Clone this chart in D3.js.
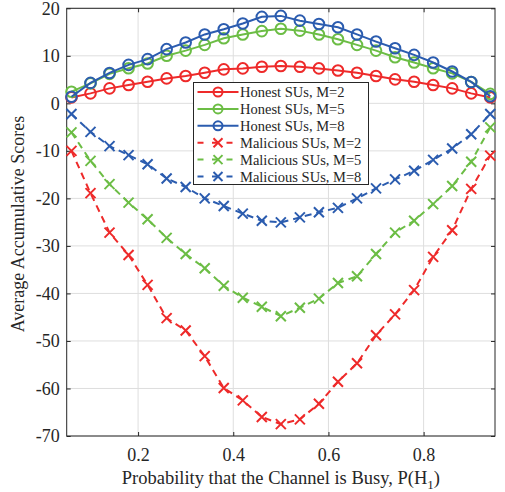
<!DOCTYPE html>
<html>
<head>
<meta charset="utf-8">
<script src="https://cdn.jsdelivr.net/npm/d3@7"></script>
<style>
  body { margin: 0; background: #fff; }
  text { font-family: "Liberation Serif", "Times New Roman", serif; }
</style>
</head>
<body>
<div id="chart"></div>
<script>
// probability values P(H1)
var pH1 = [0.06, 0.10, 0.14, 0.18, 0.22, 0.26, 0.30, 0.34, 0.38, 0.42, 0.46, 0.50,
           0.54, 0.58, 0.62, 0.66, 0.70, 0.74, 0.78, 0.82, 0.86, 0.90, 0.94];

var honestM2 = [1.25, 2.1, 3.15, 3.85, 4.55, 5.25, 5.75, 6.45, 7.15, 7.35, 7.7, 7.85,
                7.7, 7.35, 6.9, 6.45, 5.75, 5.05, 4.55, 3.85, 3.15, 2.1, 1.25];
var honestM5 = [2.45, 4.2, 6.2, 7.4, 8.4, 10.0, 11.1, 12.3, 13.7, 14.5, 15.2, 15.7,
                15.3, 14.5, 13.5, 12.3, 11.1, 9.7, 8.6, 7.4, 6.3, 4.5, 2.0];
var honestM8 = [1.4, 4.3, 6.4, 8.1, 9.3, 11.4, 12.8, 14.5, 15.6, 16.8, 18.2, 18.4,
                17.4, 16.7, 16.0, 14.5, 13.0, 11.6, 10.2, 8.6, 6.7, 4.5, 1.5];

var maliciousM2 = [-10.0, -18.9, -27.2, -31.9, -38.2, -45.2, -47.8, -53.2, -59.9, -62.5, -66.0, -67.5,
                   -66.5, -63.2, -58.6, -54.7, -48.8, -44.4, -39.3, -32.3, -26.7, -18.0, -11.0];
var maliciousM5 = [-6.1, -12.1, -17.0, -20.9, -24.4, -28.3, -31.7, -34.7, -38.4, -40.9, -42.8, -44.8,
                   -43.0, -41.1, -37.8, -36.4, -31.7, -27.2, -24.7, -21.2, -17.4, -12.3, -5.05];
var maliciousM8 = [-2.25, -6.0, -9.0, -10.9, -12.8, -15.8, -17.6, -20.0, -21.6, -23.2, -24.7, -25.05,
                   -24.0, -22.9, -22.0, -20.0, -17.9, -16.0, -14.2, -11.9, -9.5, -6.5, -2.25];

var xTicks = [0.2, 0.4, 0.6, 0.8];
var yTicks = [-70, -60, -50, -40, -30, -20, -10, 0, 10, 20];

var seriesNames = ["Honest SUs, M=2", "Honest SUs, M=5", "Honest SUs, M=8",
                   "Malicious SUs, M=2", "Malicious SUs, M=5", "Malicious SUs, M=8"];

var red = "#ee2a2a", green = "#6cbd45", blue = "#2b5caf";

var series = [
  {name: seriesNames[0], values: honestM2, color: red, honest: true},
  {name: seriesNames[1], values: honestM5, color: green, honest: true},
  {name: seriesNames[2], values: honestM8, color: blue, honest: true},
  {name: seriesNames[3], values: maliciousM2, color: red, honest: false},
  {name: seriesNames[4], values: maliciousM5, color: green, honest: false},
  {name: seriesNames[5], values: maliciousM8, color: blue, honest: false}
];

var W = 505, H = 492;
var margin = {top: 8.3, right: 10, bottom: 56, left: 66.7};
var width = W - margin.left - margin.right,
    height = H - margin.top - margin.bottom;

var svg = d3.select("#chart")
  .append("svg")
    .attr("width", W)
    .attr("height", H);

var g = svg.append("g")
    .attr("transform", "translate(" + margin.left + "," + margin.top + ")");

var x = d3.scaleLinear().domain([0.05, 0.95]).range([0, width]);
var y = d3.scaleLinear().domain([-70, 20]).range([height, 0]);

// grid
g.append("g")
  .selectAll("line")
  .data(xTicks)
  .enter().append("line")
    .attr("x1", d => x(d)).attr("x2", d => x(d))
    .attr("y1", 0).attr("y2", height)
    .attr("stroke", "#dedede").attr("stroke-width", 1);

g.append("g")
  .selectAll("line")
  .data(yTicks)
  .enter().append("line")
    .attr("x1", 0).attr("x2", width)
    .attr("y1", d => y(d)).attr("y2", d => y(d))
    .attr("stroke", "#dedede").attr("stroke-width", 1);

// axes
var axisColor = "#262626";
function styleAxis(sel) {
  sel.attr("font-family", null);
  sel.select(".domain").remove();
  sel.selectAll("line").attr("stroke", axisColor);
  sel.selectAll("text")
    .attr("fill", "#262626")
    .style("font-size", "18px")
    .style("font-family", "'Liberation Serif', 'Times New Roman', serif");
}

g.append("g")
  .attr("transform", "translate(0," + height + ")")
  .call(d3.axisBottom(x).tickValues(xTicks).tickSize(-4).tickPadding(12).tickFormat(d3.format(".1f")))
  .call(styleAxis);

g.append("g")
  .call(d3.axisTop(x).tickValues(xTicks).tickSize(-4).tickFormat(""))
  .call(styleAxis);

g.append("g")
  .call(d3.axisLeft(y).tickValues(yTicks).tickSize(-4).tickPadding(7).tickFormat(d => String(d)))
  .call(styleAxis);

g.append("g")
  .attr("transform", "translate(" + width + ",0)")
  .call(d3.axisRight(y).tickValues(yTicks).tickSize(-4).tickFormat(""))
  .call(styleAxis);

g.append("rect")
  .attr("width", width).attr("height", height)
  .attr("fill", "none")
  .attr("stroke", axisColor)
  .attr("stroke-width", 1);

// lines
var line = d3.line()
  .x((d, i) => x(pH1[i]))
  .y(d => y(d));

series.forEach(function(s) {
  g.append("path")
    .datum(s.values)
    .attr("fill", "none")
    .attr("stroke", s.color)
    .attr("stroke-width", 2)
    .attr("stroke-dasharray", s.honest ? null : "7,5")
    .attr("d", line);

  var pts = g.append("g").selectAll("g")
    .data(s.values)
    .enter().append("g")
      .attr("transform", (d, i) => "translate(" + x(pH1[i]) + "," + y(d) + ")");

  if (s.honest) {
    pts.append("circle")
      .attr("r", 5.3)
      .attr("fill", "none")
      .attr("stroke", s.color)
      .attr("stroke-width", 2);
  } else {
    pts.append("path")
      .attr("d", "M-5,-5L5,5M-5,5L5,-5")
      .attr("stroke", s.color)
      .attr("stroke-width", 2);
  }
});

// axis labels
svg.append("text")
  .attr("x", margin.left + width / 2)
  .attr("y", 484)
  .attr("text-anchor", "middle")
  .attr("fill", "#262626")
  .style("font-size", "18.5px")
  .html("Probability that the Channel is Busy, P(H<tspan font-size='13px' dy='5'>1</tspan><tspan dy='-5'>)</tspan>");

svg.append("text")
  .attr("transform", "translate(24,224) rotate(-90)")
  .attr("text-anchor", "middle")
  .attr("fill", "#262626")
  .style("font-size", "18px")
  .text("Average Accumulative Scores");

// legend
var legend = svg.append("g").attr("transform", "translate(193.5,82.5)");
legend.append("rect")
  .attr("width", 175).attr("height", 102)
  .attr("fill", "#fff")
  .attr("stroke", "#262626")
  .attr("stroke-width", 1);

var rows = legend.selectAll(".row")
  .data(series)
  .enter().append("g")
    .attr("transform", (d, i) => "translate(0," + (9.5 + i * 16.9) + ")");

rows.append("line")
  .attr("x1", 4).attr("x2", 45)
  .attr("stroke", d => d.color)
  .attr("stroke-width", 2)
  .attr("stroke-dasharray", d => d.honest ? null : "6,8.5");

rows.each(function(d) {
  var r = d3.select(this);
  if (d.honest) {
    r.append("circle").attr("cx", 24.5).attr("r", 4.5)
      .attr("fill", "none").attr("stroke", d.color).attr("stroke-width", 2);
  } else {
    r.append("path").attr("d", "M20,-4.5L29,4.5M20,4.5L29,-4.5")
      .attr("stroke", d.color).attr("stroke-width", 2);
  }
});

rows.append("text")
  .attr("x", 46.5)
  .attr("dy", "0.35em")
  .attr("fill", "#262626")
  .style("font-size", "14.5px")
  .text(d => d.name);
</script>
</body>
</html>
